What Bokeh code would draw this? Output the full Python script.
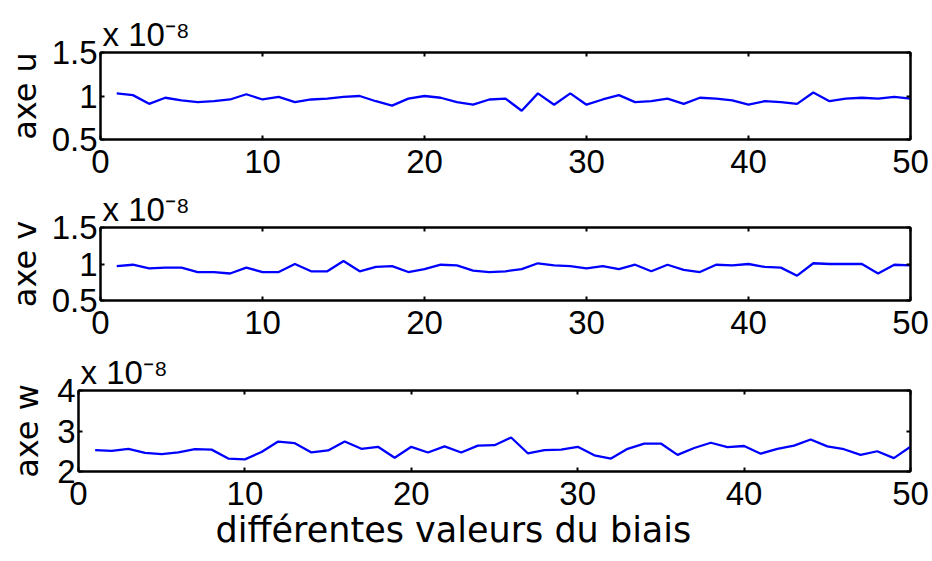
from bokeh.plotting import figure
from bokeh.models import Range1d, FixedTicker, LinearAxis, Title
from bokeh.embed import file_html
from bokeh.resources import INLINE

# x: index of the bias value
x_vals = list(range(1, 51))
x_ticks = [0, 10, 20, 30, 40, 50]

# values in units of 1e-8
u_vals = [1.03, 1.01, 0.91, 0.98, 0.95, 0.93, 0.94, 0.96, 1.02, 0.96,
          0.99, 0.93, 0.96, 0.97, 0.99, 1.00, 0.94, 0.89, 0.97, 1.00,
          0.98, 0.93, 0.90, 0.96, 0.97, 0.83, 1.03, 0.90, 1.03, 0.90,
          0.96, 1.01, 0.93, 0.94, 0.97, 0.91, 0.98, 0.97, 0.95, 0.90,
          0.94, 0.93, 0.91, 1.04, 0.94, 0.97, 0.98, 0.97, 0.99, 0.97]
v_vals = [0.97, 0.99, 0.94, 0.95, 0.95, 0.89, 0.89, 0.87, 0.95, 0.89,
          0.89, 1.00, 0.90, 0.90, 1.04, 0.90, 0.96, 0.97, 0.89, 0.93,
          0.99, 0.98, 0.91, 0.89, 0.90, 0.93, 1.01, 0.98, 0.97, 0.94,
          0.97, 0.93, 0.99, 0.90, 0.99, 0.92, 0.89, 0.99, 0.98, 1.00,
          0.96, 0.95, 0.84, 1.01, 1.00, 1.00, 1.00, 0.87, 0.99, 0.98]
w_vals = [2.53, 2.51, 2.56, 2.46, 2.43, 2.47, 2.55, 2.54, 2.32, 2.30,
          2.48, 2.74, 2.70, 2.47, 2.52, 2.74, 2.56, 2.61, 2.34, 2.61,
          2.47, 2.62, 2.47, 2.64, 2.65, 2.84, 2.45, 2.53, 2.54, 2.61,
          2.40, 2.32, 2.56, 2.69, 2.69, 2.41, 2.58, 2.71, 2.60, 2.63,
          2.44, 2.56, 2.64, 2.79, 2.62, 2.55, 2.41, 2.50, 2.33, 2.61]

uv_ticks = [0.5, 1, 1.5]
uv_tick_labels = {0.5: "0.5", 1: "1", 1.5: "1.5"}
w_ticks = [2, 3, 4]
w_tick_labels = {2: "2", 3: "3", 4: "4"}

y_labels = ["axe u", "axe v", "axe w"]
x_label = "différentes valeurs du biais"
mult_label = "x 10\u207b\u2078"

TICK_FONT = "Liberation Sans"
LABEL_FONT = "DejaVu Sans"

FIG_W = 930

# page layout of each panel (pixels): canvas top/bottom and frame box
panels = [
    dict(ctop=0,   fleft=100, fright=910, ftop=52,  fbot=139, cbot=186, yr=(0.5, 1.5)),
    dict(ctop=186, fleft=100, fright=910, ftop=227, fbot=300, cbot=347, yr=(0.5, 1.5)),
    dict(ctop=347, fleft=78,  fright=910, ftop=390, fbot=471, cbot=561, yr=(2, 4)),
]


def style_axis(ax, show_labels=True):
    ax.major_tick_in = 4
    ax.major_tick_out = 0
    ax.minor_tick_line_color = None
    ax.major_tick_line_width = 2
    ax.major_tick_line_color = "black"
    ax.axis_line_width = 2
    ax.axis_line_color = "black"
    ax.major_label_text_font = TICK_FONT
    if show_labels:
        ax.major_label_text_font_size = "33px"
        ax.major_label_text_color = "black"
    else:
        ax.major_label_text_font_size = "1px"
        ax.major_label_text_color = None
        ax.major_label_standoff = 0


def make_panel(pan, yvals, ylabel, yticks, ylabels_map, lab_standoff):
    title = Title(text=mult_label, align="left", offset=2, standoff=0,
                  text_font=TICK_FONT, text_font_size="33px",
                  text_font_style="normal", text_color="black")
    p = figure(width=FIG_W, height=pan["cbot"] - pan["ctop"],
               x_range=Range1d(0, 50), y_range=Range1d(*pan["yr"]),
               x_axis_type=None, y_axis_type=None, title=title,
               output_backend="svg", toolbar_location=None,
               min_border_left=pan["fleft"], min_border_right=FIG_W - pan["fright"],
               min_border_top=pan["ftop"] - pan["ctop"],
               min_border_bottom=pan["cbot"] - pan["fbot"])
    p.outline_line_color = "black"
    p.outline_line_width = 2
    p.background_fill_color = "white"
    p.border_fill_color = "white"

    xb = LinearAxis(ticker=FixedTicker(ticks=x_ticks))
    style_axis(xb)
    xb.major_label_standoff = 10
    p.add_layout(xb, "below")

    xa = LinearAxis(ticker=FixedTicker(ticks=x_ticks))
    style_axis(xa, show_labels=False)
    p.add_layout(xa, "above")

    yl = LinearAxis(ticker=FixedTicker(ticks=yticks))
    style_axis(yl)
    yl.major_label_overrides = ylabels_map
    yl.major_label_standoff = 3
    yl.axis_label = ylabel
    yl.axis_label_text_font = LABEL_FONT
    yl.axis_label_text_font_size = "32px"
    yl.axis_label_text_font_style = "normal"
    yl.axis_label_text_color = "black"
    yl.axis_label_standoff = lab_standoff
    p.add_layout(yl, "left")

    yr_ax = LinearAxis(ticker=FixedTicker(ticks=yticks))
    style_axis(yr_ax, show_labels=False)
    p.add_layout(yr_ax, "right")

    p.line(x_vals, yvals, line_color="#0000ff", line_width=2.3)
    return p


p1 = make_panel(panels[0], u_vals, y_labels[0], uv_ticks, uv_tick_labels, 5)
p2 = make_panel(panels[1], v_vals, y_labels[1], uv_ticks, uv_tick_labels, 5)
p3 = make_panel(panels[2], w_vals, y_labels[2], w_ticks, w_tick_labels, 8)

xt = Title(text=x_label, align="left", offset=137, standoff=0,
           text_font=LABEL_FONT, text_font_size="35px",
           text_font_style="normal", text_color="black")
p3.add_layout(xt, "below")

open("out.html", "w").write(file_html([p1, p2, p3], INLINE))
